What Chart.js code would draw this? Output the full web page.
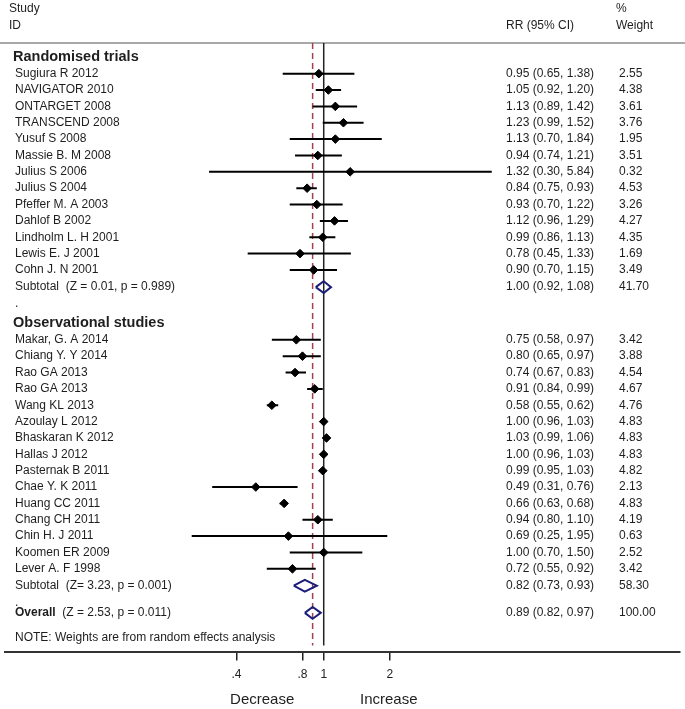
<!DOCTYPE html>
<html><head><meta charset="utf-8">
<script src="https://cdn.jsdelivr.net/npm/chart.js@4"></script>
<style>html,body{margin:0;padding:0;background:#fff;}canvas{display:block;}</style>
</head><body>
<canvas id="c" width="685" height="709"></canvas>
<script>
// ---------- DATA ----------
const groupTitles = ['Randomised trials', 'Observational studies'];

const rctNames = ['Sugiura R 2012','NAVIGATOR 2010','ONTARGET 2008','TRANSCEND 2008','Yusuf S 2008','Massie B. M 2008','Julius S 2006','Julius S 2004','Pfeffer M. A 2003','Dahlof B 2002','Lindholm L. H 2001','Lewis E. J 2001','Cohn J. N 2001'];
const rctRR  = [0.95,1.05,1.13,1.23,1.13,0.94,1.32,0.84,0.93,1.12,0.99,0.78,0.90];
const rctLo  = [0.65,0.92,0.89,0.99,0.70,0.74,0.30,0.75,0.70,0.96,0.86,0.45,0.70];
const rctHi  = [1.38,1.20,1.42,1.52,1.84,1.21,5.84,0.93,1.22,1.29,1.13,1.33,1.15];
const rctWeight = [2.55,4.38,3.61,3.76,1.95,3.51,0.32,4.53,3.26,4.27,4.35,1.69,3.49];

const obsNames = ['Makar, G. A 2014','Chiang Y. Y 2014','Rao GA 2013','Rao GA 2013','Wang KL 2013','Azoulay L 2012','Bhaskaran K 2012','Hallas J 2012','Pasternak B 2011','Chae Y. K 2011','Huang CC 2011','Chang CH 2011','Chin H. J 2011','Koomen ER 2009','Lever A. F 1998'];
const obsRR  = [0.75,0.80,0.74,0.91,0.58,1.00,1.03,1.00,0.99,0.49,0.66,0.94,0.69,1.00,0.72];
const obsLo  = [0.58,0.65,0.67,0.84,0.55,0.96,0.99,0.96,0.95,0.31,0.63,0.80,0.25,0.70,0.55];
const obsHi  = [0.97,0.97,0.83,0.99,0.62,1.03,1.06,1.03,1.03,0.76,0.68,1.10,1.95,1.50,0.92];
const obsWeight = [3.42,3.88,4.54,4.67,4.76,4.83,4.83,4.83,4.82,2.13,4.83,4.19,0.63,2.52,3.42];

const subtotalLabels = ['Subtotal  (Z = 0.01, p = 0.989)', 'Subtotal  (Z= 3.23, p = 0.001)'];
const subtotalRR = [1.00, 0.82];
const subtotalLo = [0.92, 0.73];
const subtotalHi = [1.08, 0.93];
const subtotalWeight = [41.70, 58.30];

const overallLabelBold = 'Overall';
const overallLabelRest = '  (Z = 2.53, p = 0.011)';
const overallRR = 0.89, overallLo = 0.82, overallHi = 0.97, overallWeight = 100.00;

const noteText = 'NOTE: Weights are from random effects analysis';
const xTickValues = [0.4, 0.8, 1, 2];
const xTickLabels = ['.4', '.8', '1', '2'];
const sideLabels = ['Decrease', 'Increase'];

// ---------- LAYOUT (row indices) ----------
const rctHeaderRow = 0;
const rctRows = rctNames.map((_, i) => 1 + i);
const rctSubRow = rctNames.length + 1.05;
const dot1Row = rctSubRow + 1;
const obsHeaderRow = rctNames.length + 3.23;
const obsRows = obsNames.map((_, i) => rctNames.length + 4.27 + i);
const obsSubRow = obsRows[obsRows.length - 1] + 1.03;
const dot2Row = obsSubRow + 1.0;
const overallRow = obsSubRow + 1.66;
const noteRow = overallRow + 1.55;
const Y_MIN = -0.875, Y_MAX = 36.33, LINE_END = 35.96;
const DH = 0.36; // diamond half height in rows

// ---------- DATASETS ----------
const allRR = rctRR.concat(obsRR), allLo = rctLo.concat(obsLo), allHi = rctHi.concat(obsHi);
const allRows = rctRows.concat(obsRows);
const ciData = [];
allRR.forEach((_, i) => {
  ciData.push({x: allLo[i], y: allRows[i]}, {x: allHi[i], y: allRows[i]}, {x: NaN, y: NaN});
});
const pointData = allRR.map((v, i) => ({x: v, y: allRows[i]}));

function diamond(rr, lo, hi, row) {
  return [{x: lo, y: row}, {x: rr, y: row - DH}, {x: hi, y: row}, {x: rr, y: row + DH}, {x: lo, y: row}];
}
const NAVY = '#1b1f7a';
const datasets = [
  {type: 'line', data: pointData, showLine: false, pointStyle: 'rectRot', pointRadius: 4.3,
   pointBackgroundColor: '#000', pointBorderColor: '#000', pointBorderWidth: 1, order: 1},
  {type: 'line', data: ciData, borderColor: '#000', borderWidth: 2, pointRadius: 0, spanGaps: false, order: 5},
  {type: 'line', data: diamond(subtotalRR[0], subtotalLo[0], subtotalHi[0], rctSubRow), borderColor: NAVY, borderWidth: 2, pointRadius: 0, order: 4},
  {type: 'line', data: diamond(subtotalRR[1], subtotalLo[1], subtotalHi[1], obsSubRow), borderColor: NAVY, borderWidth: 2, pointRadius: 0, order: 4},
  {type: 'line', data: diamond(overallRR, overallLo, overallHi, overallRow), borderColor: NAVY, borderWidth: 2, pointRadius: 0, order: 4},
  {type: 'line', data: [{x: 1, y: Y_MIN}, {x: 1, y: LINE_END}], borderColor: '#222', borderWidth: 1.5, pointRadius: 0, order: 10},
  {type: 'line', data: [{x: overallRR, y: Y_MIN}, {x: overallRR, y: LINE_END}], borderColor: '#a3404f', borderWidth: 1.5, borderDash: [6, 4], pointRadius: 0, order: 9}
];

const FONT = '"Liberation Sans", Arial, Helvetica, sans-serif';
const TXT = '#1e1e1e';

const textPlugin = {
  id: 'forestText',
  beforeDatasetsDraw(chart) {
    const ctx = chart.ctx, a = chart.chartArea;
    ctx.save();
    ctx.strokeStyle = '#a8a8a8';
    ctx.lineWidth = 2;
    ctx.beginPath(); ctx.moveTo(0, a.top); ctx.lineTo(chart.width, a.top); ctx.stroke();
    ctx.restore();
  },
  afterDraw(chart) {
    const ctx = chart.ctx, ys = chart.scales.y, xs = chart.scales.x;
    const py = r => ys.getPixelForValue(r);
    const X_NAME = 15, X_RR = 506, X_W = 619;
    ctx.save();
    ctx.fillStyle = TXT;
    ctx.textBaseline = 'middle';
    ctx.textAlign = 'left';
    ctx.font = '12px ' + FONT;
    // column headers
    ctx.fillText('Study', 9, 9);
    ctx.fillText('ID', 9, 26);
    ctx.fillText('RR (95% CI)', X_RR, 26);
    ctx.fillText('%', 616, 9);
    ctx.fillText('Weight', 616, 26);
    const ci = (r, l, h) => r.toFixed(2) + ' (' + l.toFixed(2) + ', ' + h.toFixed(2) + ')';
    // group headers
    ctx.font = 'bold 14.5px ' + FONT;
    ctx.fillText(groupTitles[0], 13, py(rctHeaderRow));
    ctx.fillText(groupTitles[1], 13, py(obsHeaderRow));
    ctx.font = '12px ' + FONT;
    rctNames.forEach((n, i) => {
      const y = py(rctRows[i]);
      ctx.fillText(n, X_NAME, y);
      ctx.fillText(ci(rctRR[i], rctLo[i], rctHi[i]), X_RR, y);
      ctx.fillText(rctWeight[i].toFixed(2), X_W, y);
    });
    obsNames.forEach((n, i) => {
      const y = py(obsRows[i]);
      ctx.fillText(n, X_NAME, y);
      ctx.fillText(ci(obsRR[i], obsLo[i], obsHi[i]), X_RR, y);
      ctx.fillText(obsWeight[i].toFixed(2), X_W, y);
    });
    [rctSubRow, obsSubRow].forEach((r, i) => {
      const y = py(r);
      ctx.fillText(subtotalLabels[i], X_NAME, y);
      ctx.fillText(ci(subtotalRR[i], subtotalLo[i], subtotalHi[i]), X_RR, y);
      ctx.fillText(subtotalWeight[i].toFixed(2), X_W, y);
    });
    ctx.fillText('.', X_NAME, py(dot1Row));
    ctx.fillText('.', X_NAME, py(dot2Row) + 1);
    // overall
    const oy = py(overallRow);
    ctx.font = 'bold 12px ' + FONT;
    ctx.fillText(overallLabelBold, X_NAME, oy);
    const bw = ctx.measureText(overallLabelBold).width;
    ctx.font = '12px ' + FONT;
    ctx.fillText(overallLabelRest, X_NAME + bw, oy);
    ctx.fillText(ci(overallRR, overallLo, overallHi), X_RR, oy);
    ctx.fillText(overallWeight.toFixed(2), X_W, oy);
    ctx.fillText(noteText, X_NAME, py(noteRow));
    // side labels
    ctx.font = '15px ' + FONT;
    ctx.textAlign = 'center';
    ctx.fillText(sideLabels[0], xs.getPixelForValue(0.524), 700);
    ctx.fillText(sideLabels[1], xs.getPixelForValue(1.98), 700);
    ctx.restore();
  }
};

new Chart(document.getElementById('c'), {
  type: 'scatter',
  data: {datasets},
  options: {
    responsive: false,
    animation: false,
    devicePixelRatio: 1,
    layout: {padding: {top: 43, bottom: 20, left: 3, right: 3}},
    plugins: {legend: {display: false}, tooltip: {enabled: false}},
    scales: {
      x: {
        type: 'logarithmic',
        min: 0.0353, max: 42.03,
        afterBuildTicks: s => { s.ticks = xTickValues.map(v => ({value: v})); },
        ticks: {
          autoSkip: false, maxRotation: 0, padding: 7, color: '#222',
          font: {family: FONT, size: 12},
          callback: (v, i) => xTickLabels[i]
        },
        grid: {display: true, drawOnChartArea: false, drawTicks: true, tickLength: 9, color: '#222', lineWidth: 1.5},
        border: {display: true, color: '#333', width: 2}
      },
      y: {type: 'linear', reverse: true, min: Y_MIN, max: Y_MAX, display: false}
    }
  },
  plugins: [textPlugin]
});
</script>
</body></html>
